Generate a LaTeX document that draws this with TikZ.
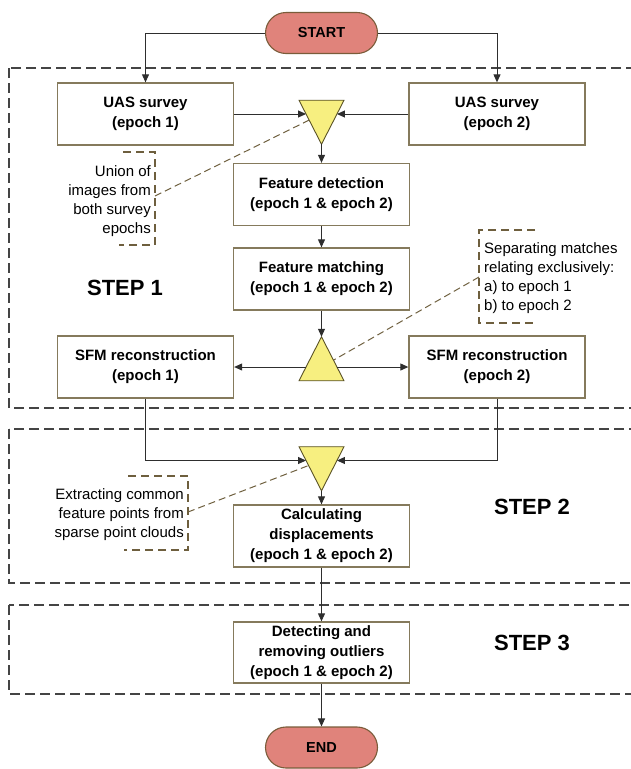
\documentclass[tikz,border=0pt]{standalone}
\usepackage{fontspec}
\setmainfont{Liberation Sans}
\usetikzlibrary{shapes.geometric,shapes.misc,arrows.meta}
\definecolor{boxborder}{HTML}{857A5C}
\definecolor{termborder}{HTML}{7A5C3A}
\definecolor{termfill}{HTML}{E0837B}
\definecolor{trifill}{HTML}{F7EF80}
\definecolor{tridraw}{HTML}{5A5226}
\definecolor{connc}{HTML}{2E2E2E}
\definecolor{notec}{HTML}{6E5F3E}
\definecolor{stepc}{HTML}{444444}
\begin{document}
\begin{tikzpicture}[x=1pt,y={(0pt,-1pt)},
  proc/.style={draw=boxborder, line width=1.3pt, fill=white, align=center,
    minimum width=176pt, minimum height=62pt, inner sep=2pt,
    font=\bfseries\fontsize{15}{20}\selectfont},
  term/.style={rounded rectangle, draw=termborder, fill=termfill, line width=1.1pt,
    minimum width=116pt, minimum height=41pt, inner sep=2pt,
    font=\bfseries\fontsize{14.5}{17}\selectfont},
  tridown/.style={isosceles triangle, isosceles triangle stretches, shape border rotate=-90,
    minimum width=45pt, minimum height=44pt, inner sep=0pt, outer sep=0pt,
    draw=tridraw, fill=trifill, line width=0.9pt},
  triup/.style={tridown, shape border rotate=90},
  conn/.style={draw=connc, line width=1pt, -{Triangle[length=8pt,width=7pt]}},
  notetext/.style={font=\fontsize{15}{19}\selectfont, inner sep=0pt},
  bracket/.style={draw=notec, line width=1.2pt, dash pattern=on 8pt off 5pt},
  leader/.style={draw=notec, line width=1pt, dash pattern=on 7pt off 4pt},
  stepbox/.style={draw=stepc, line width=1.2pt, dash pattern=on 10pt off 5pt},
  steplabel/.style={font=\bfseries\fontsize{22}{26}\selectfont, inner sep=0pt}
]
\clip (0,0) rectangle (631,769);

% step frames
\draw[stepbox] (9,68) rectangle (650,408);
\draw[stepbox] (9,429) rectangle (650,583);
\draw[stepbox] (9,605) rectangle (650,694);

% terminals
\node[term] (start) at (321.5,33) {START};
\node[term] (end) at (321.5,747.5) {END};

% process boxes
\node[proc] (uas1) at (145.5,114) {UAS survey\\(epoch 1)};
\node[proc] (uas2) at (497,114) {UAS survey\\(epoch 2)};
\node[proc] (fd) at (321.5,194.5) {Feature detection\\(epoch 1 \& epoch 2)};
\node[proc] (fm) at (321.5,279) {Feature matching\\(epoch 1 \& epoch 2)};
\node[proc] (sfm1) at (145.5,367) {SFM reconstruction\\(epoch 1)};
\node[proc] (sfm2) at (497,367) {SFM reconstruction\\(epoch 2)};
\node[proc] (calc) at (321.5,536) {Calculating\\displacements\\(epoch 1 \& epoch 2)};
\node[proc, minimum height=61pt] (det) at (321.5,652.5) {Detecting and\\removing outliers\\(epoch 1 \& epoch 2)};

% triangles
\node[tridown] (tri1) at (321.5,114) {};
\node[triup] (tri2) at (321.5,367) {};
\node[tridown] (tri3) at (321.5,460.5) {};

% step labels
\node[steplabel] (s1) at (125,288) {STEP 1};
\node[steplabel] (s2) at (532,507) {STEP 2};
\node[steplabel] (s3) at (532,643) {STEP 3};

% connectors
\draw[conn] (start.west) -| (uas1.north);
\draw[conn] (start.east) -| (uas2.north);
\draw[conn] (uas1.east) -- (tri1);
\draw[conn] (uas2.west) -- (tri1);
\draw[conn] (tri1.apex) -- (fd.north);
\draw[conn] (fd.south) -- (fm.north);
\draw[conn] (fm.south) -- (tri2.apex);
\draw[conn] (tri2) -- (sfm1.east);
\draw[conn] (tri2) -- (sfm2.west);
\draw[conn] (sfm1.south) |- (tri3);
\draw[conn] (sfm2.south) |- (tri3);
\draw[conn] (tri3.apex) -- (calc.north);
\draw[conn] (calc.south) -- (det.north);
\draw[conn] (det.south) -- (end.north);

% notes
\node[notetext, align=right, anchor=east] (n1) at (151,201) {Union of\\images from\\both survey\\epochs};
\draw[bracket] (123,152) -- (155,152) -- (155,245) -- (119,245);
\coordinate (n1c) at (155,196);
\draw[leader] (n1c) -- (tri1);

\node[notetext, align=left, anchor=west] (n2) at (484,278.5) {Separating matches\\relating exclusively:\\a) to epoch 1\\b) to epoch 2};
\draw[bracket] (535,230) -- (479,230) -- (479,323) -- (535,323);
\coordinate (n2c) at (479,277);
\draw[leader] (n2c) -- (tri2);

\node[notetext, align=right, anchor=east] (n3) at (184,514.5) {Extracting common\\feature points from\\sparse point clouds};
\draw[bracket] (128,476) -- (188,476) -- (188,550) -- (124,550);
\coordinate (n3c) at (188,512);
\draw[leader] (n3c) -- (tri3);
\end{tikzpicture}
\end{document}
